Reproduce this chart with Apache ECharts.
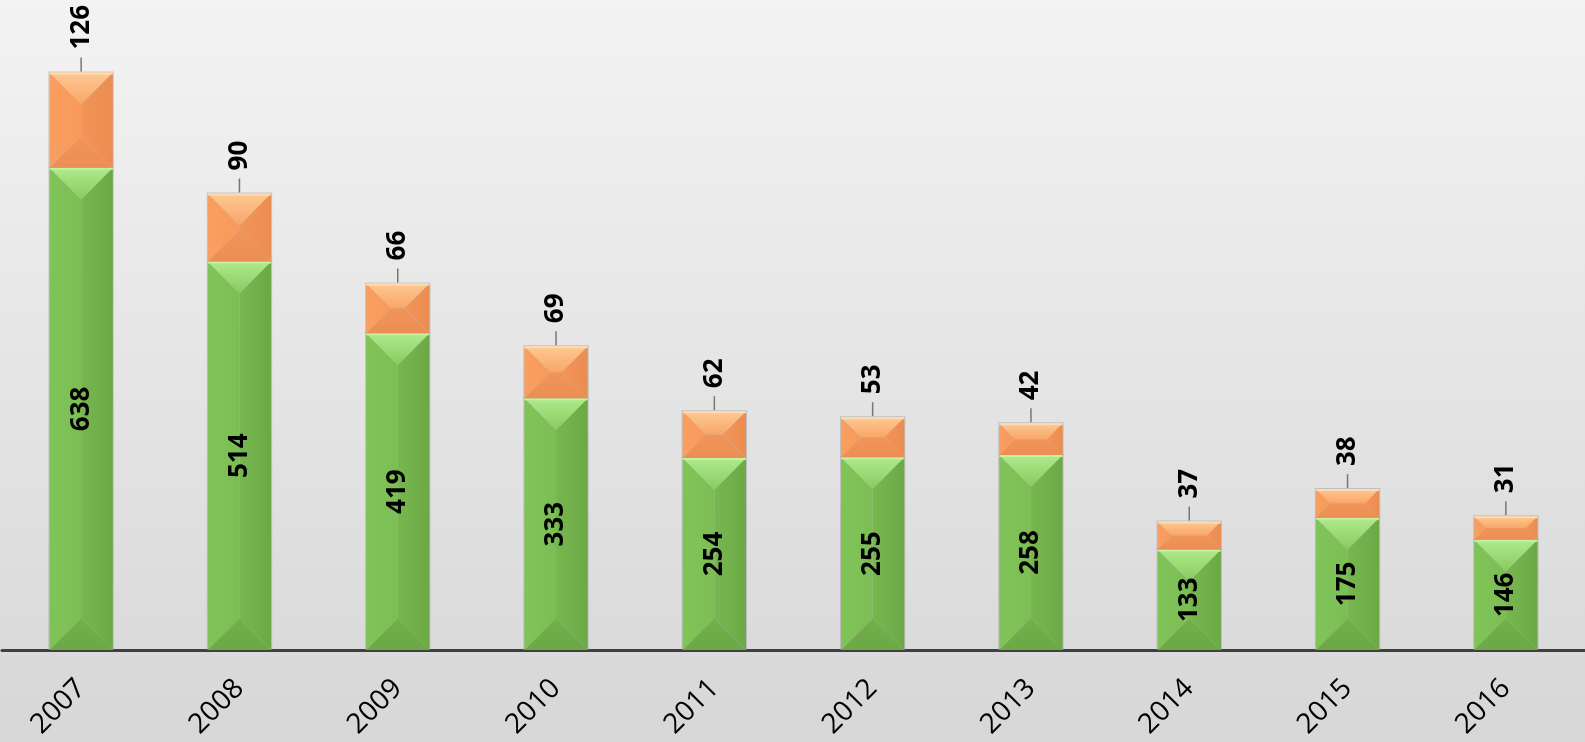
<!DOCTYPE html>
<html>
<head>
<meta charset="utf-8">
<script src="https://cdn.jsdelivr.net/npm/echarts@6/dist/echarts.min.js"></script>
<style>
  html, body { margin: 0; padding: 0; }
  #chart { width: 1585px; height: 742px; }
</style>
</head>
<body>
<div id="chart"></div>
<script>
  // chart data
  var years = ['2007', '2008', '2009', '2010', '2011', '2012', '2013', '2014', '2015', '2016'];
  var greenValues = [638, 514, 419, 333, 254, 255, 258, 133, 175, 146];
  var orangeValues = [126, 90, 66, 69, 62, 53, 42, 37, 38, 31];

  var greenFaces = {
    top: ['#b0ea8c', '#88ca60'],
    bottom: ['#72b04b', '#6ca846'],
    left: ['#80c458', '#7cbe54'],
    right: ['#77b74f', '#6ca946'],
    edge: '#c2f2a2'
  };
  var orangeFaces = {
    top: ['#fdc993', '#f9a668'],
    bottom: ['#f0955a', '#ec8e53'],
    left: ['#fa9f60', '#f79a5c'],
    right: ['#f29557', '#eb8d50'],
    edge: '#fddcb4'
  };

  function grad(c, horizontal) {
    return {
      type: 'linear', x: 0, y: 0, x2: horizontal ? 1 : 0, y2: horizontal ? 0 : 1,
      colorStops: [{offset: 0, color: c[0]}, {offset: 1, color: c[1]}]
    };
  }

  //斜面块
  function bevelFaces(x0, y0, x1, y1) {
    var w = x1 - x0, h = y1 - y0, cx = (x0 + x1) / 2, cy = (y0 + y1) / 2, d;
    if (h >= w) {
      d = w / 2;
      return {
        top: [[x0, y0], [x1, y0], [cx, y0 + d]],
        bottom: [[x0, y1], [x1, y1], [cx, y1 - d]],
        left: [[x0, y0], [cx, y0 + d], [cx, y1 - d], [x0, y1]],
        right: [[x1, y0], [cx, y0 + d], [cx, y1 - d], [x1, y1]]
      };
    }
    d = h / 2;
    return {
      top: [[x0, y0], [x1, y0], [x1 - d, cy], [x0 + d, cy]],
      bottom: [[x0, y1], [x1, y1], [x1 - d, cy], [x0 + d, cy]],
      left: [[x0, y0], [x0 + d, cy], [x0, y1]],
      right: [[x1, y0], [x1 - d, cy], [x1, y1]]
    };
  }

  function makeRender(faces, isTop) {
    return function (params, api) {
      var idx = api.value(0), base = api.value(1), val = api.value(2);
      var pBase = api.coord([idx, base]);
      var pTop = api.coord([idx, base + val]);
      var bw = api.size([1, 0])[0] * 0.4;
      var x0 = pBase[0] - bw / 2, x1 = pBase[0] + bw / 2;
      var y0 = pTop[1], y1 = pBase[1];
      var f = bevelFaces(x0, y0, x1, y1);
      var children = [
        {type: 'rect', shape: {x: x0 - 1, y: y0 - 1, width: bw + 2, height: y1 - y0 + 1},
          style: {fill: 'rgba(150,150,150,0.45)'}},
        {type: 'polygon', shape: {points: f.left}, style: {fill: grad(faces.left, true)}},
        {type: 'polygon', shape: {points: f.right}, style: {fill: grad(faces.right, true)}},
        {type: 'polygon', shape: {points: f.top}, style: {fill: grad(faces.top, false)}},
        {type: 'polygon', shape: {points: f.bottom}, style: {fill: grad(faces.bottom, false)}},
        {type: 'line', shape: {x1: x0, y1: y0 + 1, x2: x1, y2: y0 + 1},
          style: {stroke: faces.edge, lineWidth: 2}}
      ];
      var cx = pBase[0];
      if (isTop) {
        children.push({type: 'line', shape: {x1: cx, y1: y0 - 15, x2: cx, y2: y0 - 1},
          style: {stroke: '#777777', lineWidth: 1.5}});
        children.push({type: 'text', x: cx, y: y0 - 23, rotation: Math.PI / 2,
          style: {text: String(val), align: 'left', verticalAlign: 'middle',
            font: 'bold 26px "Open Sans"', fill: '#000'}});
      } else {
        children.push({type: 'text', x: cx, y: (y0 + y1) / 2, rotation: Math.PI / 2,
          style: {text: String(val), align: 'center', verticalAlign: 'middle',
            font: 'bold 26px "Open Sans"', fill: '#000'}});
      }
      return {type: 'group', children: children};
    };
  }

  var greenData = [], orangeData = [];
  for (var i = 0; i < years.length; i++) {
    greenData.push([i, 0, greenValues[i]]);
    orangeData.push([i, greenValues[i], orangeValues[i]]);
  }

  var chart = echarts.init(document.getElementById('chart'));
  chart.setOption({
    animation: false,
    backgroundColor: {
      type: 'linear', x: 0, y: 0, x2: 0, y2: 1,
      colorStops: [{offset: 0, color: '#f3f3f3'}, {offset: 1, color: '#d7d7d7'}]
    },
    grid: {left: 2, right: -1, top: 0, bottom: 92},
    xAxis: {
      type: 'category',
      data: years,
      axisLine: {lineStyle: {color: '#404040', width: 3}},
      axisTick: {show: false},
      axisLabel: {rotate: 45, margin: 34, color: '#000', fontSize: 28, fontFamily: 'Open Sans'}
    },
    yAxis: {
      type: 'value', min: 0, max: 860, show: false, splitLine: {show: false}
    },
    series: [
      {type: 'custom', renderItem: makeRender(greenFaces, false), encode: {x: 0, y: 2}, data: greenData},
      {type: 'custom', renderItem: makeRender(orangeFaces, true), encode: {x: 0, y: 2}, data: orangeData}
    ]
  });
</script>
</body>
</html>
